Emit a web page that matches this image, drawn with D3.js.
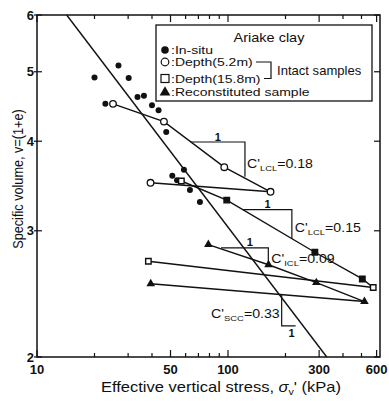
<!DOCTYPE html>
<html lang="en">
<head>
<meta charset="UTF-8">
<script src="https://cdnjs.cloudflare.com/ajax/libs/d3/7.8.5/d3.min.js"></script>
<style>
body{ margin:0; background:#fff; }
text{ font-family: "Liberation Sans", Arial, sans-serif; fill:#111; }
</style>
</head>
<body>
<div id="main-container"></div>
<script type="text/javascript">
/* global d3 */

// ---- data (stress in kPa, specific volume v) ----
const inSituStress = [20.0, 26.7, 30.2, 33.6, 36.3, 40.0, 43.3, 47.5, 22.8, 58.8, 51.1, 54.1, 63.2, 71.3];
const inSituV      = [4.91, 5.10, 4.90, 4.61, 4.63, 4.49, 4.42, 4.12, 4.51, 3.65, 3.58, 3.53, 3.42, 3.29];

const d52LoadStress = [25.0, 46.2, 95.6, 167];
const d52LoadV      = [4.51, 4.26, 3.68, 3.40];
const d52UnloadStress = [39.3, 167];
const d52UnloadV      = [3.50, 3.40];

const d158LoadStress = [57.0, 98.5, 285, 505, 576];
const d158LoadV      = [3.52, 3.31, 2.80, 2.57, 2.50];
const d158UnloadStress = [38.3, 576];
const d158UnloadV      = [2.72, 2.50];

const reconLoadStress = [78.9, 163, 290, 518];
const reconLoadV      = [2.87, 2.69, 2.54, 2.39];
const reconUnloadStress = [39.4, 518];
const reconUnloadV      = [2.53, 2.39];

const sccStress = [14.3, 329];
const sccV      = [6, 2];

const xTickLabels = [10, 50, 100, 300, 600];
const xMinorTicks = [20, 30, 40, 60, 70, 80, 90, 200, 400, 500];
const yTickLabels = [2, 3, 4, 5, 6];

// slope triangles: x start, x corner, v top, v bottom, subscript, value
const slopeTris = [
  {x0: 63.8, x1: 122.7, vTop: 3.99, vBot: 3.57, sub: 'LCL', val: '0.18'},
  {x0: 120,  x1: 216,   vTop: 3.21, vBot: 2.93, sub: 'LCL', val: '0.15'},
  {x0: 92,   x1: 162.6, vTop: 2.84, vBot: 2.69, sub: 'ICL', val: '0.09'}
];
const sccTri = {x: 191, vTop: 2.44, vBot: 2.21, x2: 226, sub: 'SCC', val: '0.33'};

const legendItems = [':In-situ', ':Depth(5.2m)', ':Depth(15.8m)', ':Reconstituted sample'];

const w = 389, h = 403;
const mLeft = 37, mRight = 380, mTop = 15, mBottom = 357;
const sx = 1.18;   // the scanned figure is a little wider than tall

const svg = d3.select('#main-container').append('svg').attr('width', w).attr('height', h);

const xScale = d3.scaleLog().domain([10, 625]).range([mLeft, mRight]);
const yScale = d3.scaleLog().domain([2, 6]).range([mBottom, mTop]);

const zip = (xs, ys) => xs.map((x, i) => [x, ys[i]]);
const line = d3.line().x(d => xScale(d[0])).y(d => yScale(d[1]));

// text placed at x,y and stretched sideways
function wideText(parent, x, y, size, k) {
  return parent.append('text')
    .attr('transform', 'translate(' + x + ',' + y + ') scale(' + (k || sx) + ',1)')
    .style('font-size', size + 'px');
}

// frame
svg.append('rect').attr('x', mLeft).attr('y', mTop).attr('width', mRight - mLeft).attr('height', mBottom - mTop)
  .attr('fill', 'none').attr('stroke', '#111').attr('stroke-width', 1.5);

// ticks (inward, mirrored)
const xAll = xTickLabels.map(v => [v, 7]).concat(xMinorTicks.map(v => [v, 4]));
xAll.forEach(([v, len]) => {
  const x = xScale(v);
  svg.append('line').attr('x1', x).attr('x2', x).attr('y1', mBottom).attr('y2', mBottom - len).attr('stroke', '#111').attr('stroke-width', 1.2);
  svg.append('line').attr('x1', x).attr('x2', x).attr('y1', mTop).attr('y2', mTop + len).attr('stroke', '#111').attr('stroke-width', 1.2);
});
yTickLabels.forEach(v => {
  const y = yScale(v);
  svg.append('line').attr('x1', mLeft - 3).attr('x2', mLeft + 5).attr('y1', y).attr('y2', y).attr('stroke', '#111').attr('stroke-width', 1.2);
  svg.append('line').attr('x1', mRight).attr('x2', mRight - 6).attr('y1', y).attr('y2', y).attr('stroke', '#111').attr('stroke-width', 1.2);
});

svg.selectAll('.xlab').data(xTickLabels).enter().append('text')
  .attr('x', d => xScale(d)).attr('y', 374).attr('text-anchor', 'middle')
  .style('font-size', '13px').style('font-weight', 'bold').text(d => d);
svg.selectAll('.ylab').data(yTickLabels).enter().append('text')
  .attr('x', 34).attr('y', d => yScale(d) + 4.5).attr('text-anchor', 'end')
  .style('font-size', '13px').style('font-weight', 'bold').text(d => d);

// axis titles
const xt = wideText(svg, 221, 392, 14).attr('text-anchor', 'middle');
xt.append('tspan').text('Effective vertical stress, ');
xt.append('tspan').style('font-style', 'italic').text('σ');
xt.append('tspan').attr('dy', 3).style('font-size', '9px').text('v');
xt.append('tspan').attr('dy', -3).text("' (kPa)");

svg.append('text').attr('transform', 'translate(23,179) scale(' + sx + ',1) rotate(-90)').attr('text-anchor', 'middle')
  .style('font-size', '12.7px').text('Specific volume, v=(1+e)');

// lines
const lines = [
  zip(sccStress, sccV),
  zip(d52LoadStress, d52LoadV), zip(d52UnloadStress, d52UnloadV),
  zip(d158LoadStress, d158LoadV), zip(d158UnloadStress, d158UnloadV),
  zip(reconLoadStress, reconLoadV), zip(reconUnloadStress, reconUnloadV)
];
svg.selectAll('.ln').data(lines).enter().append('path')
  .attr('d', line).attr('fill', 'none').attr('stroke', '#111').attr('stroke-width', 1.4);

// markers
svg.selectAll('.insitu').data(zip(inSituStress, inSituV)).enter().append('circle')
  .attr('cx', d => xScale(d[0])).attr('cy', d => yScale(d[1])).attr('r', 3).attr('fill', '#111');

svg.selectAll('.d52').data(zip(d52LoadStress, d52LoadV).concat(zip(d52UnloadStress, d52UnloadV).slice(0, 1))).enter().append('circle')
  .attr('cx', d => xScale(d[0])).attr('cy', d => yScale(d[1])).attr('r', 3.3)
  .attr('fill', '#fff').attr('stroke', '#111').attr('stroke-width', 1.3);

const sq = d3.symbol().type(d3.symbolSquare).size(30);
svg.selectAll('.d158').data(zip(d158LoadStress, d158LoadV).concat(zip(d158UnloadStress, d158UnloadV).slice(0, 1))).enter().append('path')
  .attr('d', sq).attr('transform', d => 'translate(' + xScale(d[0]) + ',' + yScale(d[1]) + ')')
  .attr('fill', (d, i) => (i === 1 || i === 2 || i === 3) ? '#111' : '#fff').attr('stroke', '#111').attr('stroke-width', 1.4);

const tri = d3.symbol().type(d3.symbolTriangle).size(32);
svg.selectAll('.recon').data(zip(reconLoadStress, reconLoadV).concat(zip(reconUnloadStress, reconUnloadV).slice(0, 1))).enter().append('path')
  .attr('d', tri).attr('transform', d => 'translate(' + xScale(d[0]) + ',' + yScale(d[1]) + ')')
  .attr('fill', '#111');

// slope triangles
function cLabel(x, y, sub, val, anchor) {
  const t = wideText(svg, x, y, 12).attr('text-anchor', anchor || 'start');
  t.append('tspan').text("C'");
  t.append('tspan').attr('dy', 3).style('font-size', '8px').text(sub);
  t.append('tspan').attr('dy', -3).text('=' + val);
}
const labelOff = [[2, 26], [3, 22], [3, 15]];
slopeTris.forEach((t, i) => {
  const xa = xScale(t.x0), xb = xScale(t.x1), ya = yScale(t.vTop), yb = yScale(t.vBot);
  svg.append('path').attr('d', 'M' + xa + ',' + ya + 'H' + xb + 'V' + yb)
    .attr('fill', 'none').attr('stroke', '#111').attr('stroke-width', 1.2);
  svg.append('text').attr('x', (xa + xb) / 2 + (i === 2 ? 5 : 0)).attr('y', ya - 1.5).attr('text-anchor', 'middle')
    .style('font-size', '11px').style('font-weight', 'bold').text('1');
  cLabel(xb + labelOff[i][0], ya + labelOff[i][1], t.sub, t.val);
});
{
  const xa = xScale(sccTri.x), ya = yScale(sccTri.vTop), yb = yScale(sccTri.vBot), xb = xScale(sccTri.x2);
  svg.append('path').attr('d', 'M' + xa + ',' + ya + 'V' + yb + 'H' + xb)
    .attr('fill', 'none').attr('stroke', '#111').attr('stroke-width', 1.2);
  svg.append('text').attr('x', xa + 10).attr('y', yb + 11).attr('text-anchor', 'middle')
    .style('font-size', '11px').style('font-weight', 'bold').text('1');
  cLabel(xa - 2, ya + 23, sccTri.sub, sccTri.val, 'end');
}

// legend
const lg = svg.append('g');
lg.append('rect').attr('x', 156).attr('y', 25).attr('width', 216).attr('height', 76)
  .attr('fill', '#fff').attr('stroke', '#111').attr('stroke-width', 1.3);
wideText(lg, 269, 42, 12.5, 1.16).attr('text-anchor', 'middle').text('Ariake clay');
const rowY = [50, 62, 78.5, 92];
legendItems.forEach((s, i) => {
  wideText(lg, 171, rowY[i] + 4, 11.3, 1.24).text(s);
});
lg.append('circle').attr('cx', 165).attr('cy', rowY[0]).attr('r', 3.8).attr('fill', '#111');
lg.append('circle').attr('cx', 165).attr('cy', rowY[1]).attr('r', 3.8).attr('fill', '#fff').attr('stroke', '#111').attr('stroke-width', 1.2);
lg.append('rect').attr('x', 161).attr('y', rowY[2] - 4).attr('width', 8).attr('height', 8).attr('fill', '#fff').attr('stroke', '#111').attr('stroke-width', 1.2);
lg.append('path').attr('d', d3.symbol().type(d3.symbolTriangle).size(50)).attr('transform', 'translate(165,' + (rowY[3] + 0.5) + ')').attr('fill', '#111');
lg.append('path').attr('d', 'M256,' + rowY[1] + 'H271V' + rowY[2] + 'H264').attr('fill', 'none').attr('stroke', '#111').attr('stroke-width', 1.2);
wideText(lg, 277, 75, 12, 1.09).text('Intact samples');
</script>
</body>
</html>
